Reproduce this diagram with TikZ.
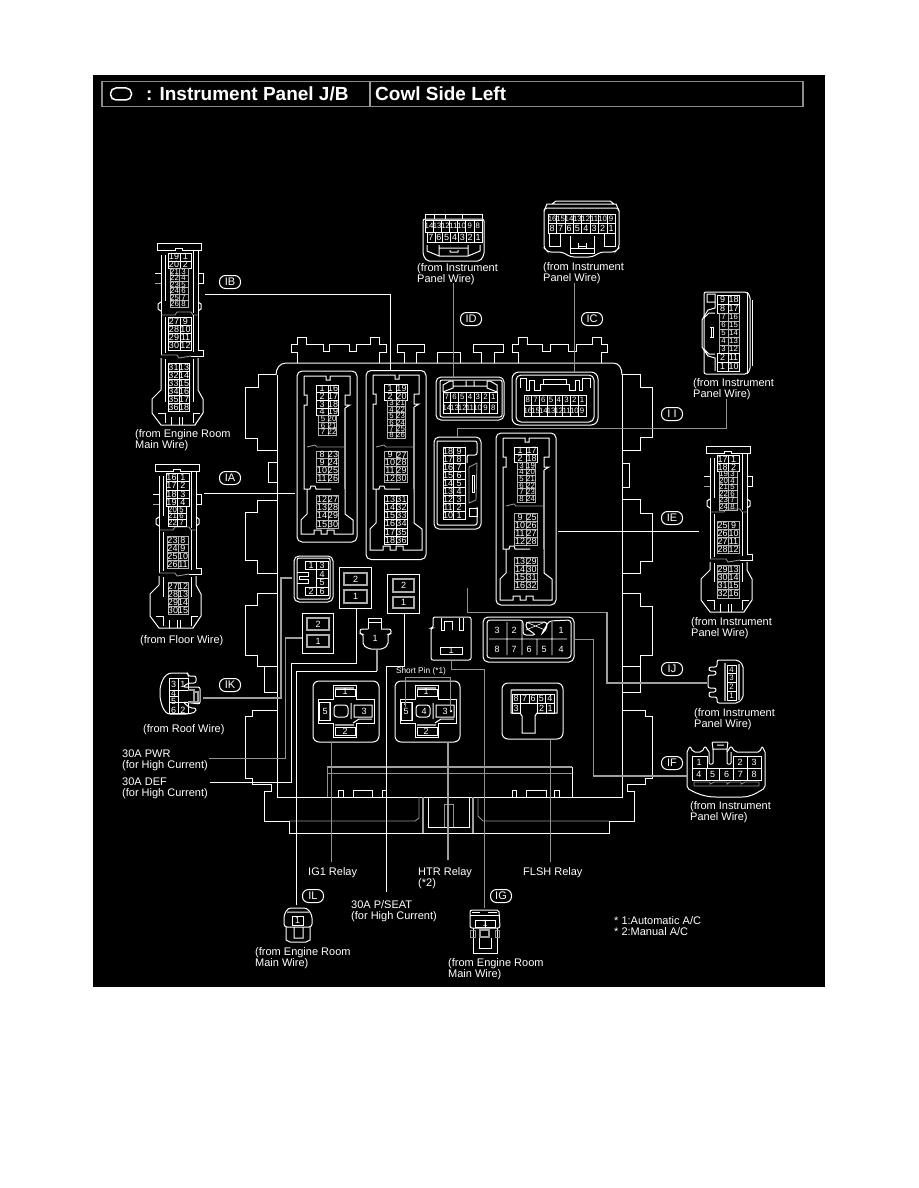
\documentclass[tikz,border=0pt]{standalone}
\usepackage{fontspec}
\setmainfont{Liberation Sans}
\tikzset{
    part/.style = {draw=white, line width=1pt, line join=miter},
    thin-part/.style = {draw=gray!85, line width=0.9pt},
    grey-part/.style = {draw=gray!75, line width=1.6pt},
    wire/.style = {draw=white, line width=0.9pt},
    grey-wire/.style = {draw=gray!75, line width=1.4pt},
    jb-box/.style = {draw=white, line width=1pt, rectangle, rounded corners=5pt, inner sep=0pt, outer sep=0pt},
    fuse-box/.style = {draw=white, line width=0.8pt, rectangle, inner sep=0pt, outer sep=0pt},
    fuse-pin/.style = {draw=gray!65, line width=1.1pt, rectangle, inner sep=0pt, outer sep=0pt, text=white, font=\fontsize{9}{9}\selectfont},
    bubble/.style = {draw=white, line width=1pt, rectangle, rounded corners=6pt, minimum width=21pt, minimum height=13pt, inner sep=0pt, text=white, font=\fontsize{11}{11}\selectfont},
    pin-text/.style = {inner sep=0pt, text=white, font=\fontsize{9}{9}\selectfont},
    tiny-pin/.style = {pin-text/.append style={font=\fontsize{7.8}{8}\selectfont}},
    pin-cell/.style = {draw=white, line width=0.6pt},
    grey-cell/.style = {pin-cell/.append style={draw=gray!60, line width=0.8pt}},
    wire-label/.style = {anchor=west, align=left, inner sep=0pt, yshift=-1.5pt, text=white, font=\fontsize{11}{10.8}\selectfont},
    title-text/.style = {anchor=west, inner sep=0pt, text=white, font=\fontsize{19}{20}\selectfont\bfseries},
}
\newcommand{\pinpairs}[8][]{%
    \begin{scope}[#1]
    \foreach \lp/\rp [count=\n] in {#8} {
        \draw[pin-cell] (#3,{#6+(\n-1)*#7}) rectangle (#4,{#6+\n*#7}) (#4,{#6+(\n-1)*#7}) rectangle (#5,{#6+\n*#7});
    }
    \foreach \lp/\rp [count=\n] in {#8} {
        \node[pin-text] (#2-\lp) at ({(#3+#4)/2},{#6+(\n-.5)*#7}) {\lp};
        \node[pin-text] (#2-\rp) at ({(#4+#5)/2},{#6+(\n-.5)*#7}) {\rp};
    }
    \end{scope}}
\newcommand{\pinrow}[7][]{%
    \begin{scope}[#1]
    \foreach \p [count=\n] in {#7} {
        \draw[pin-cell] ({#3+(\n-1)*#4},#5) rectangle ({#3+\n*#4},{#5+#6});
        \node[pin-text] (#2-\p) at ({#3+(\n-.5)*#4},{#5+#6/2}) {\p};
    }
    \end{scope}}
\newcommand{\longconn}[4]{%
    \draw[part] (0,0) -- (44,0) -- (44,7) -- (25,7) -- (25,5) -- (18,5) -- (18,7) -- (0,7) -- cycle;
    \draw[part] (4,12) -- (4,#1) (8,12) -- (8,#1-14) (36,7) -- (36,#1-2) (41,7) -- (41,#1);
    \draw[part] (-2,30) -- (4,30) (4,40) -- (-2,40) -- cycle (41,30) -- (46,30) -- (46,40) -- (41,40);
    \draw[part] (4,#1-13) -- (1,#1-11) -- (1,#1-6) -- (4,#1-4) (41,#1-13) -- (44,#1-11) -- (44,#1-6) -- (41,#1-4);
    \draw[thin-part] (4,#1) -- (18,#1) -- (20,#1-3) -- (34,#1-3) -- (36,#1) -- (41,#1);
    \draw[part] (4,#1) -- (4,#2) (8,#1+2) -- (8,#2-2) (36,#1) -- (36,#2-3) (41,#1) -- (41,#2-5) -- (46,#2-5) -- (46,#2+1) -- (34,#2+1);
    \draw[thin-part] (4,#2) -- (20,#2) -- (22,#2+3) -- (34,#2+1);
    \draw[part] (4,#2+3) -- (4,#3) -- (-5,#3+9) -- (-5,#4-12) -- (4,#4) -- (38,#4) -- (46,#4-12) -- (46,#3+9) -- (41,#3) -- (41,#2+3);
    \draw[part] (8,#2+4) -- (8,#3+12) (36,#2+4) -- (36,#3+12);
    \draw[part] (1,#4-12) -- (8,#4-12) -- (8,#4-2) (36,#4-2) -- (36,#4-12) -- (43,#4-12) (14,#4-8) -- (14,#4) (22,#4-8) -- (22,#4) (25,#4-8) -- (25,#4);
}
\newcommand{\blockbody}[4]{%
    \draw[part] (7,5) -- (29,5) -- (29,9) -- (33,9) -- (33,5) -- (53,5) -- (53,24) -- (48,24) -- (48,34) -- (53,34) -- (48,37);
    \draw[part] (7,5) -- (7,24) -- (10,24) -- (10,34) -- (7,34) -- (7,#2-4) -- (7,#2+3) -- (13,#2+3) -- (14,#2) -- (18,#2) -- (19,#2+3) -- (34,#2+3);
    \draw[thin-part] (10,#1) -- (18,#1-2) -- (20,#1) -- (48,#1);
    \draw[grey-part, line width=1.1pt] (48,37) -- (48,#2+3);
    \draw[part] (10,#2+3) -- (10,#3) -- (4,#3+6) -- (4,#4) -- (17,#4) -- (17,#4-4) -- (24,#4-4) -- (24,#4) -- (30,#4) -- (30,#4-4) -- (37,#4-4) -- (37,#4) -- (56,#4) -- (56,#3+6) -- (48,#3) -- (48,#2+3);
}
\newcommand{\relaybody}{%
    \draw[part] (20,4) -- (43,4) -- (43,18) -- (61,18) -- (61,42) -- (43,42) -- (43,56) -- (20,56) -- (20,42) -- (5,42) -- (5,18) -- (20,18) -- cycle;
    \draw[grey-part] (22,7) -- (41,7) (22,44) -- (41,44) (17,21) -- (17,39);
    \draw[part] (22,8) rectangle (42,15) (22,46) rectangle (42,54) (6,21) rectangle (17,39);
    \draw[part, rounded corners=3pt] (21,24) rectangle (35,36);
    \draw[part] (38,22) -- (38,38) (41,24) rectangle (59,36) (40,42) -- (46,38) -- (59,38);
}
\begin{document}
\begin{tikzpicture}[x=1pt, y=-1pt]
\useasboundingbox (0,0) rectangle (918,1188);
\fill[black] (93,75) rectangle (825,987);

\node[fuse-box, draw=gray!90, line width=1.3pt, minimum width=701pt, minimum height=25pt] (title-box) at (452.5,94) {};
\draw[grey-part] (370,82) -- (370,106);
\draw[part, line width=1.5pt, rounded corners=5.5pt] (110.5,88) rectangle (131.5,100);
\node[title-text] (title-left) at (146,94) {: Instrument Panel J/B};
\node[title-text] (title-right) at (375,94) {Cowl Side Left};

\draw[part] (276,375) .. controls (276,368) and (280,363) .. (286,363) -- (613,363) .. controls (619,363) and (622,368) .. (622,375);
\draw[part] (297,363) -- (297,352) -- (291,352) -- (291,344) -- (297,344) -- (297,337) -- (306,337) -- (306,344) -- (323,344) -- (323,351) -- (329,351) -- (329,344) -- (349,344) -- (349,351) -- (356,351) -- (356,344) -- (370,344) -- (370,337) -- (379,337) -- (379,344) -- (386,344) -- (386,352) -- (379,352) -- (379,363);
\draw[part] (404,363) -- (404,352) -- (397,352) -- (397,344) -- (424,344) -- (424,352) -- (416,352) -- (416,363);
\draw[part] (437,363) -- (437,352) -- (460,352) -- (460,363);
\draw[part] (481,363) -- (481,352) -- (473,352) -- (473,344) -- (503,344) -- (503,352) -- (494,352) -- (494,363);
\draw[part] (518,363) -- (518,352) -- (512,352) -- (512,344) -- (518,344) -- (518,337) -- (527,337) -- (527,344) -- (542,344) -- (542,351) -- (550,351) -- (550,344) -- (568,344) -- (568,351) -- (576,351) -- (576,344) -- (592,344) -- (592,337) -- (601,337) -- (601,344) -- (607,344) -- (607,352) -- (601,352) -- (601,363);

\draw[part] (277,375) -- (277,797) -- (622,797) -- (622,375);
\draw[part] (276,374) -- (258,374) -- (258,387) -- (245,387) -- (245,438) -- (257,438) -- (257,450) -- (277,450);
\draw[part] (277,462) -- (268,462) -- (268,482) -- (277,482);
\draw[part] (277,500) -- (257,500) -- (257,512) -- (245,512) -- (245,560) -- (257,560) -- (257,573) -- (277,573);
\draw[part] (277,593) -- (257,593) -- (257,605) -- (245,605) -- (245,655) -- (257,655) -- (257,666) -- (277,666);
\draw[part] (264,666) -- (264,692) -- (277,692);
\draw[part] (277,710) -- (252,710) -- (252,716) -- (245,716) -- (245,778) -- (252,778) -- (252,784) -- (271,784) -- (271,791) -- (264,791) -- (264,821) -- (289,821) -- (289,833) -- (609,833) -- (609,821) -- (634,821) -- (634,791) -- (627,791) -- (627,784) -- (645,784) -- (645,778) -- (652,778) -- (652,716) -- (645,716) -- (645,710) -- (622,710);
\draw[part] (622,374) -- (640,374) -- (640,387) -- (652,387) -- (652,437) -- (640,437) -- (640,450) -- (622,450);
\draw[part] (622,463) -- (629,463) -- (629,487) -- (622,487);
\draw[part] (622,499) -- (640,499) -- (640,513) -- (652,513) -- (652,561) -- (640,561) -- (640,573) -- (622,573);
\draw[part] (622,593) -- (640,593) -- (640,606) -- (652,606) -- (652,655) -- (640,655) -- (640,666) -- (622,666);
\draw[part] (640,666) -- (640,692) -- (622,692);

\draw[grey-part, line width=1.3pt] (327,767) -- (572,767);
\draw[thin-part] (327,773) -- (572,773) (327,767) -- (327,797);
\draw[part] (572,767) -- (572,797);
\draw[part] (338,797) -- (338,790) -- (343,790) -- (343,797) (353,797) -- (353,790) -- (372,790) -- (372,797) (382,797) -- (382,790) -- (386,790);
\draw[part] (512,797) -- (512,790) -- (516,790) -- (516,797) (526,797) -- (526,790) -- (546,790) -- (546,797) (554,797) -- (554,790) -- (559,790) -- (559,797);
\draw[thin-part] (289,821) -- (415,821) -- (419,818) -- (419,797) (609,821) -- (483,821) -- (478,816) -- (478,797);
\draw[grey-part] (423,797) -- (423,833) (473,797) -- (473,833);
\draw[part] (428,797) -- (428,827) -- (469,827) -- (469,797);
\draw[thin-part] (444,827) -- (444,804) -- (453,804) -- (453,827);

\node[jb-box, minimum width=60pt, minimum height=171pt] (block-a) at (327,456.5) {};
\node[jb-box, minimum width=60pt, minimum height=189pt] (block-b) at (396,465) {};
\node[jb-box, minimum width=60pt, minimum height=172pt] (block-e) at (526,519) {};
\begin{scope}[shift={(297,371)}] \blockbody{76}{115}{143}{163} \end{scope}
\begin{scope}[shift={(366,370)}] \blockbody{77}{116}{153}{180} \end{scope}
\begin{scope}[shift={(496,433)}] \blockbody{73}{113}{140}{167} \end{scope}

\pinpairs{a}{316}{328}{338}{385}{7.6}{1/16,2/17,3/18,4/19}
\pinpairs[grey-cell,tiny-pin]{a}{318}{328}{336}{415.4}{6.7}{5/20,6/21,7/22}
\pinpairs[grey-cell]{a}{316}{328}{338}{451}{7.75}{8/23,9/24,10/25,11/26}
\pinpairs[grey-cell]{a}{316}{328}{338}{495}{8.3}{12/27,13/28,14/29,15/30}
\pinpairs{b}{384}{396}{407}{384}{8}{1/19,2/20}
\pinpairs[grey-cell,tiny-pin]{b}{387}{396}{405}{400}{6.4}{3/21,4/22,5/23,6/24,7/25,8/26}
\pinpairs[grey-cell]{b}{384}{396}{407}{451}{7.75}{9/27,10/28,11/29,12/30}
\pinpairs{b}{384}{396}{407}{495}{8.2}{13/31,14/32,15/33,16/34,17/35,18/36}
\pinpairs{e}{514}{526}{537}{447}{7.7}{1/17,2/18}
\pinpairs[grey-cell,tiny-pin]{e}{517}{526}{535}{462.4}{6.6}{3/19,4/20,5/21,6/22,7/23,8/24}
\pinpairs[grey-cell]{e}{514}{526}{537}{513}{8}{9/25,10/26,11/27,12/28}
\pinpairs[grey-cell]{e}{514}{526}{537}{557}{8.2}{13/29,14/30,15/31,16/32}

\node[jb-box, minimum width=68pt, minimum height=43pt] (block-d) at (470,398.5) {};
\draw[part, rounded corners=2pt] (440,380) rectangle (502,417);
\draw[part] (443,392) -- (443,385) -- (450,381) -- (453,381) -- (453,388) -- (443,392) (497,392) -- (497,385) -- (490,381) -- (487,381) -- (487,388) -- (497,392) (453,386) -- (487,386) (466,381) -- (466,386) (474,381) -- (474,386);
\pinrow[tiny-pin]{d}{443}{7.72}{392}{10}{7,6,5,4,3,2,1}
\pinrow[tiny-pin]{d}{443}{7.72}{402}{11}{14,13,12,11,10,9,8}

\node[jb-box, rounded corners=7pt, minimum width=86pt, minimum height=53pt] (block-c) at (555,398.5) {};
\draw[part, rounded corners=5pt] (516,375) rectangle (594,422);
\draw[part] (520,378) -- (526,378) -- (526,390) -- (529,390) -- (529,380) -- (534,380) -- (534,390) -- (540,390) -- (540,384) -- (543,384) -- (543,379) -- (566,379) -- (566,384) -- (569,384) -- (569,390) -- (575,390) -- (575,380) -- (579,380) -- (579,390) -- (582,390) -- (582,378) -- (590,378);
\draw[part] (520,378) -- (520,388) (590,378) -- (590,388) (543,384) -- (566,384);
\pinrow[tiny-pin]{c}{524}{7.75}{395}{10}{8,7,6,5,4,3,2,1}
\pinrow[tiny-pin]{c}{524}{7.75}{405}{11}{16,15,14,13,12,11,10,9}

\node[jb-box, minimum width=47pt, minimum height=92pt] (block-i) at (457.5,483) {};
\draw[part, rounded corners=2pt] (437,441) -- (477,441) -- (477,455) -- (467,455) -- (467,463);
\draw[part, rounded corners=2pt] (437,441) -- (437,525) -- (477,525) -- (477,507);
\draw[thin-part] (469,467) -- (477,463) -- (476,500) -- (469,503) -- cycle;
\draw[part] (472,475) rectangle (474,492) (469,508) rectangle (477,516);
\pinpairs{i}{443}{453}{465}{447}{8}{18/9,17/8,16/7,15/6,14/5,13/4,12/3,11/2,10/1}

\node[jb-box, minimum width=39pt, minimum height=46pt] (block-k) at (313.5,579) {};
\draw[part, rounded corners=2pt] (297,558) rectangle (330,599);
\draw[part] (297,572) -- (308,572) -- (308,576) -- (299,576) -- (299,579) -- (308,579) -- (308,583) -- (297,583);
\draw[pin-cell] (305,561) rectangle (328,569) (316,561) -- (316,569) (316,569) rectangle (328,587) (316,578) -- (328,578) (305,587) rectangle (328,595) (316,587) -- (316,595);
\node[pin-text] (k-1) at (311,565) {1};
\node[pin-text] (k-3) at (322,565) {3};
\node[pin-text] (k-4) at (322,574) {4};
\node[pin-text] (k-5) at (322,582) {5};
\node[pin-text] (k-2) at (311,591) {2};
\node[pin-text] (k-6) at (322,591) {6};

\node[fuse-box, minimum width=32pt, minimum height=41pt] (fuse-a) at (355,587.5) {};
\node[fuse-pin, minimum width=23pt, minimum height=12pt] (fuse-a2) at (355.5,579) {2};
\node[fuse-pin, minimum width=23pt, minimum height=13pt] (fuse-a1) at (355.5,596.5) {1};
\node[fuse-box, minimum width=32pt, minimum height=39pt] (fuse-b) at (403,593.5) {};
\node[fuse-pin, minimum width=21pt, minimum height=13pt] (fuse-b2) at (403.5,585.5) {2};
\node[fuse-pin, minimum width=21pt, minimum height=11pt] (fuse-b1) at (403.5,602.5) {1};
\node[fuse-box, minimum width=31pt, minimum height=40pt] (fuse-c) at (317.5,633) {};
\node[fuse-pin, minimum width=22pt, minimum height=12pt] (fuse-c2) at (318,624) {2};
\node[fuse-pin, minimum width=22pt, minimum height=12pt] (fuse-c1) at (318,641) {1};

\draw[part] (368,629) -- (368,618) -- (381,618) -- (381,629) (368,622) -- (381,622);
\draw[part, rounded corners=2pt] (368,629) -- (360,629) -- (360,634) -- (363,634) -- (363,645) -- (369,649) -- (383,649) -- (388,645) -- (388,634) -- (391,634) -- (391,629) -- (381,629);
\node[pin-text] (pin-small-1) at (375,638) {1};

\draw[part, rounded corners=2pt] (433,628) -- (433,617) -- (471,617) -- (471,628) -- (471,660) -- (431,660) -- (431,628) -- cycle;
\draw[part] (441,618) -- (441,630) -- (444,630) -- (444,621) -- (452,621) -- (452,630) (459,618) -- (459,630) -- (463,630) -- (463,618);
\draw[pin-cell] (440,647) rectangle (462,654);
\node[pin-text] (pin-large-1) at (451,650.5) {1};

\node[jb-box, minimum width=91pt, minimum height=45pt] (block-f) at (528.5,639.5) {};
\draw[part, rounded corners=3pt] (487,620) -- (523,620) -- (523,635) -- (536,635) -- (526,628) -- (526,622) -- (547,622) -- (547,628) -- (541,635) -- (549,621) -- (571,620) -- (571,658) -- (487,658) -- cycle;
\draw[pin-cell] (489,639) -- (567,639) (507,622) -- (507,655) (522,622) -- (522,655) (537,639) -- (537,655) (552,622) -- (552,655) (526,622) -- (545,630) (545,622) -- (526,630);
\node[pin-text] (f-3) at (497,630) {3};
\node[pin-text] (f-2) at (514,630) {2};
\node[pin-text] (f-1) at (561,630) {1};
\node[pin-text] (f-8) at (497,649) {8};
\node[pin-text] (f-7) at (514,649) {7};
\node[pin-text] (f-6) at (529,649) {6};
\node[pin-text] (f-5) at (544,649) {5};
\node[pin-text] (f-4) at (561,649) {4};

\node[jb-box, rounded corners=6pt, minimum width=66pt, minimum height=61pt] (relay-ig) at (346,711.5) {};
\begin{scope}[shift={(313,681)}] \relaybody \end{scope}
\node[pin-text] (ig-1) at (345,691) {1};
\node[pin-text] (ig-5) at (325,711) {5};
\node[pin-text] (ig-3) at (364,711) {3};
\node[pin-text] (ig-2) at (345,731) {2};
\node[jb-box, rounded corners=6pt, minimum width=65pt, minimum height=61pt] (relay-htr) at (427.5,711.5) {};
\begin{scope}[shift={(395,681)}] \relaybody \end{scope}
\node[pin-text] (htr-1) at (426,691) {1};
\node[pin-text] (htr-5) at (406,711) {5};
\node[pin-text] (htr-4) at (424,711) {4};
\node[pin-text] (htr-3) at (445,711) {3};
\node[pin-text] (htr-2) at (426,731) {2};
\fill[white] (405,704) circle (1pt) (451,711) circle (1.3pt);
\node[jb-box, rounded corners=6pt, minimum width=61pt, minimum height=56pt] (relay-flsh) at (532.5,711) {};
\draw[grey-part] (511,690) -- (557,690);
\draw[part] (511,690) -- (511,713) -- (520,713) -- (522,716) -- (522,733) -- (535,733) -- (535,716) -- (537,713) -- (557,713) -- (557,690);
\pinrow{fl}{512}{8.4}{694}{9.5}{8,7,6,5,4}
\draw[pin-cell] (512,703.5) rectangle (520,713) (537,703.5) rectangle (546,713) (546,703.5) rectangle (554,713);
\node[pin-text] (fl-3) at (516,708) {3};
\node[pin-text] (fl-2) at (541.5,708) {2};
\node[pin-text] (fl-1) at (550,708) {1};

\begin{scope}[shift={(157,243)}] \longconn{72}{112}{147}{182} \end{scope}
\pinpairs{ib}{168}{180}{191}{253}{7.8}{19/1,20/2}
\pinpairs[grey-cell,tiny-pin]{ib}{170}{179}{188}{268.6}{6.4}{21/3,22/4,23/5,24/6,25/7,26/8}
\pinpairs{ib}{168}{180}{191}{317}{8.2}{27/9,28/10,29/11,30/12}
\pinpairs{ib}{168}{179}{189}{363}{8.1}{31/13,32/14,33/15,34/16,35/17,36/18}

\begin{scope}[shift={(155,464)}] \longconn{66}{109}{121}{164} \end{scope}
\pinpairs{ia}{166}{177}{189}{473}{8.4}{16/1,17/2,18/3,19/4}
\pinpairs[tiny-pin]{ia}{168}{177}{186}{506.6}{6.4}{20/5,21/6,22/7}
\pinpairs[grey-cell]{ia}{167}{178}{188}{536}{8}{23/8,24/9,25/10,26/11}
\pinpairs[grey-cell]{ia}{168}{178}{188}{582}{8}{27/12,28/13,29/14,30/15}

\begin{scope}[shift={(706,446)}] \longconn{66}{113}{124}{166} \end{scope}
\pinpairs{ie}{717}{728}{739}{455}{8}{17/1,18/2}
\pinpairs[grey-cell,tiny-pin]{ie}{719}{728}{737}{471}{6.5}{19/3,20/4,21/5,22/6,23/7,24/8}
\pinpairs[grey-cell]{ie}{717}{728}{739}{521}{8}{25/9,26/10,27/11,28/12}
\pinpairs[grey-cell]{ie}{717}{728}{739}{565}{8.25}{29/13,30/14,31/15,32/16}

\draw[part] (425,219) -- (425,214) -- (482,214) -- (482,219) (434,214) -- (434,219) (445,214) -- (445,219) (462,214) -- (462,219);
\draw[part, rounded corners=2pt] (423,219) -- (484,219) -- (484,255) -- (480,261) -- (427,261) -- (423,255) -- cycle;
\draw[part] (427,245) -- (427,251) -- (439,256) -- (468,256) -- (480,251) -- (480,245) (439,245) -- (439,256) (468,245) -- (468,256) (439,248) -- (468,248) (450,252) -- (458,252) (450,250) -- (450,252) (458,250) -- (458,252);
\pinrow[tiny-pin]{dc}{425}{8.14}{220}{12}{14,13,12,11,10,9,8}
\pinrow{dc}{427}{7.86}{232}{10}{7,6,5,4,3,2,1}

\draw[part] (544,211) -- (547,204) -- (616,204) -- (619,211) (552,204) -- (556,201) -- (610,201) -- (614,204);
\draw[part, rounded corners=3pt] (544,208) -- (619,208) -- (619,248) -- (615,252) -- (601,252) -- (592,257) -- (571,257) -- (562,252) -- (548,252) -- (544,248) -- cycle;
\draw[part] (549,234) -- (549,246) -- (560,246) -- (560,234) (615,234) -- (615,246) -- (604,246) -- (604,234) (570,236) -- (570,253) -- (594,253) -- (594,236) (570,248) -- (594,248) (578,243) -- (578,248) (586,243) -- (586,248) (578,246) -- (586,246);
\pinrow[tiny-pin]{cc}{548}{8.4}{214}{9}{16,15,14,13,12,11,10,9}
\pinrow{cc}{548}{8.4}{223}{10}{8,7,6,5,4,3,2,1}

\draw[part, rounded corners=2pt] (704,292) -- (747,292) -- (750,296) -- (750,370) -- (747,374) -- (704,374) -- cycle;
\draw[part] (747,292) -- (747,374) (752,300) -- (752,366);
\draw[part] (707,294) rectangle (715,302) (715,295) -- (715,308) -- (708,310) -- (702,320) -- (702,347) -- (708,356) -- (715,358) -- (715,371) (704,318) -- (709,313) -- (715,313) (704,349) -- (709,354) -- (715,354);
\draw[part] (711,327) -- (711,337) (713,327) -- (713,337) (710,327) -- (714,327) (710,337) -- (714,337);
\pinpairs{ii}{717}{728}{739}{295}{9}{9/18,8/17}
\pinpairs[grey-cell,tiny-pin]{ii}{719}{728}{739}{313}{8}{7/16,6/15,5/14,4/13,3/12}
\pinpairs{ii}{717}{728}{739}{353}{9}{2/11,1/10}

\draw[part, rounded corners=2pt] (172,673) -- (188,673) -- (188,676) -- (196,676) -- (196,683) -- (188,683) -- (183,687) -- (200,687) -- (200,704) -- (183,702) -- (190,708) -- (196,708) -- (196,712) -- (188,714) -- (172,714) .. controls (163,714) and (160,700) .. (160,693) .. controls (160,686) and (163,673) .. (172,673);
\draw[pin-cell] (169,678) rectangle (188,690) (169,690) rectangle (178,702) (169,702) rectangle (188,713) (178,678) -- (178,690) (178,702) -- (178,713) (169,696) -- (178,696);
\draw[grey-part] (188,690) -- (195,690) (188,702) -- (195,702) (194,692) rectangle (198,702);
\node[pin-text] (ik-3) at (173.5,684) {3};
\node[pin-text] (ik-1) at (183,684) {1};
\node[pin-text] (ik-4) at (173.5,693) {4};
\node[pin-text] (ik-5) at (173.5,701) {5};
\node[pin-text] (ik-6) at (173.5,710) {6};
\node[pin-text] (ik-2) at (183,710) {2};

\draw[part, rounded corners=2pt] (717,660) -- (738,660) -- (743,665) -- (743,698) -- (738,703) -- (717,703) -- (717,697) -- (709,697) -- (709,692) -- (716,692) -- (716,688) -- (708,688) -- (708,675) -- (716,675) -- (716,671) -- (709,671) -- (709,667) -- (717,667) -- cycle;
\draw[grey-part] (725,663) -- (725,701) (739,664) -- (739,700);
\pinrow[tiny-pin]{ijt}{727}{9}{665}{8.75}{4}
\pinrow[tiny-pin]{ijt}{727}{9}{673.75}{8.75}{3}
\pinrow[tiny-pin]{ijt}{727}{9}{682.5}{8.75}{2}
\pinrow[tiny-pin]{ijt}{727}{9}{691.25}{8.75}{1}

\draw[part, rounded corners=2pt] (687,752) -- (687,788) .. controls (700,796) and (710,797) .. (718,797) -- (740,797) .. controls (750,797) and (755,794) .. (765,788) -- (765,752);
\draw[part, rounded corners=2pt] (687,752) -- (690,746) -- (693,752) -- (702,752) -- (705,746) -- (709,752) (727,752) -- (731,746) -- (735,752) -- (760,752) -- (762,746) -- (765,752);
\draw[part, rounded corners=1pt] (709,752) -- (709,764) -- (713,764) -- (713,749) -- (712,742) -- (728,742) -- (727,749) -- (727,764) -- (731,764) -- (731,752) (713,749) -- (727,749) (717,745) -- (724,745);
\draw[pin-cell] (692,756) rectangle (707,768) (733,756) rectangle (747,768) (747,756) rectangle (761,768);
\pinrow{if}{692}{13.8}{768}{12}{4,5,6,7,8}
\node[pin-text] (if-1) at (699,762) {1};
\node[pin-text] (if-2) at (740,762) {2};
\node[pin-text] (if-3) at (754,762) {3};
\draw[thin-part] (694,786) -- (694,782) -- (710,782) -- (710,784) -- (714,782) -- (727,782) -- (727,784) -- (730,782) -- (741,782) -- (741,784) -- (745,782) -- (759,782) -- (759,786) (694,786) -- (759,786);

\draw[part, rounded corners=3pt] (284,927) -- (284,915) -- (288,908) -- (307,908) -- (312,915) -- (312,927) -- cycle;
\draw[part] (286,927) -- (286,940) -- (290,942) -- (306,942) -- (310,940) -- (310,927) (294,927) -- (294,938) -- (303,938) -- (303,927) (287,912) -- (309,912);
\draw[pin-cell] (292,916) rectangle (303,925);
\node[pin-text] (il-1) at (297.5,920.5) {1};

\draw[part, rounded corners=2pt] (470,910) -- (499,910) -- (500,928) -- (470,928) -- cycle;
\draw[part] (470,915) -- (499,915) (472,912) -- (480,912) (488,912) -- (497,912);
\draw[pin-cell] (475,920) rectangle (495,927) (485,920) -- (485,927);
\node[pin-text] (ig-conn-1) at (485,923.5) {1};
\draw[part] (473,928) -- (473,953) -- (497,953) -- (497,928) (479,938) -- (479,948) -- (491,948) -- (491,938);
\draw[grey-part] (480,930) rectangle (489,937);
\draw[thin-part] (470,930) rectangle (475,937) (495,930) rectangle (499,937);

\coordinate (ib-tip) at (205,294);
\coordinate (ib-in) at (390,371);
\coordinate (id-tip) at (453,283);
\coordinate (id-in) at (453,377);
\coordinate (ic-tip) at (574,283);
\coordinate (ic-in) at (574,372);
\coordinate (ii-tip) at (726,399);
\coordinate (ii-in) at (457,437);
\coordinate (ie-tip) at (699,531);
\coordinate (ie-in) at (558,531);
\coordinate (ia-tip) at (204,493);
\coordinate (ia-in) at (295,493);
\coordinate (ik-tip) at (203,698);
\coordinate (ik-in) at (292,578);
\coordinate (pwr-tip) at (209,758);
\coordinate (pwr-in) at (302,638);
\coordinate (def-tip) at (210,782);
\coordinate (def-in) at (356,608);
\coordinate (il-tip) at (296,905);
\coordinate (il-in) at (377,650);
\coordinate (seat-tip) at (386,892);
\coordinate (seat-in) at (404,613);
\coordinate (ig-tip) at (484,908);
\coordinate (ig-in) at (451,660);
\coordinate (rig-tip) at (331,862);
\coordinate (rig-in) at (331,742);
\coordinate (htr-tip) at (448,860);
\coordinate (htr-in) at (448,742);
\coordinate (flsh-tip) at (550,862);
\coordinate (flsh-in) at (550,739);
\coordinate (ij-tip) at (707,683);
\coordinate (ij-in) at (467,588);
\coordinate (if-tip) at (687,776);
\coordinate (if-in) at (574,639);

\draw[wire] (ib-tip) -| (ib-in);
\draw[thin-part] (id-tip) -- (id-in);
\draw[thin-part] (ic-tip) -- (ic-in);
\draw[thin-part] (ii-tip) |- (457,428) -- (ii-in);
\draw[wire] (ie-tip) -- (ie-in);
\draw[wire] (ia-tip) -- (ia-in);
\draw[grey-wire] (ik-tip) -| (281,578) -- (ik-in);
\draw[thin-part] (pwr-tip) -| (285,638);
\draw[grey-wire] (285,638) -- (pwr-in);
\draw[wire] (def-tip) -| (291,663) -| (def-in);
\draw[wire] (il-tip) |- (377,671);
\draw[grey-wire] (377,671) -- (il-in);
\draw[wire] (seat-tip) |- (404,666) -- (seat-in);
\draw[thin-part] (ig-tip) |- (451,669) -- (ig-in);
\draw[thin-part] (rig-tip) -- (rig-in);
\draw[grey-part, line width=1.3pt] (htr-tip) -- (htr-in);
\draw[thin-part] (flsh-tip) -- (flsh-in);
\draw[thin-part] (ij-in) |- (607,612);
\draw[grey-wire] (607,612) |- (ij-tip);
\draw[thin-part] (if-in) -- (593,639) -- (593,776);
\draw[grey-wire] (593,776) -- (if-tip);
\draw[thin-part] (405,707) |- (450,677) -- (450,711);

\node[pin-text, font=\fontsize{8.3}{9}\selectfont] (short-pin) at (421,671) {Short Pin (*1)};

\node[bubble] (ib) at (230,282) {IB};
\node[bubble] (id) at (471,319) {ID};
\node[bubble] (ic) at (592,319) {IC};
\node[bubble] (ii) at (672,414) {I I};
\node[bubble] (ie) at (672,518) {IE};
\node[bubble] (ia) at (230,478) {IA};
\node[bubble] (ik) at (230,685) {IK};
\node[bubble] (ij) at (672,669) {IJ};
\node[bubble] (if) at (672,763) {IF};
\node[bubble] (il) at (313,896) {IL};
\node[bubble] (ig) at (501,896) {IG};

\node[wire-label] (ib-label) at (135,439) {(from Engine Room\\Main Wire)};
\node[wire-label] (id-label) at (417,272.5) {(from Instrument\\Panel Wire)};
\node[wire-label] (ic-label) at (543,271.5) {(from Instrument\\Panel Wire)};
\node[wire-label] (ii-label) at (693,387.5) {(from Instrument\\Panel Wire)};
\node[wire-label] (ie-label) at (691,626.5) {(from Instrument\\Panel Wire)};
\node[wire-label] (ij-label) at (694,717.5) {(from Instrument\\Panel Wire)};
\node[wire-label] (if-label) at (690,810.5) {(from Instrument\\Panel Wire)};
\node[wire-label] (ia-label) at (140,639) {(from Floor Wire)};
\node[wire-label] (ik-label) at (143,728) {(from Roof Wire)};
\node[wire-label] (pwr-label) at (122,759) {30A PWR\\(for High Current)};
\node[wire-label] (def-label) at (122,786.5) {30A DEF\\(for High Current)};
\node[wire-label] (rig-label) at (308,871) {IG1 Relay};
\node[wire-label] (htr-label) at (418,876.5) {HTR Relay\\(*2)};
\node[wire-label] (flsh-label) at (523,871) {FLSH Relay};
\node[wire-label] (seat-label) at (351,910) {30A P/SEAT\\(for High Current)};
\node[wire-label] (il-label) at (255,956.5) {(from Engine Room\\Main Wire)};
\node[wire-label] (ig-label) at (448,967.5) {(from Engine Room\\Main Wire)};
\node[wire-label] (notes) at (614,924.5) {* 1:Automatic A/C\\* 2:Manual A/C};
\end{tikzpicture}
\end{document}
